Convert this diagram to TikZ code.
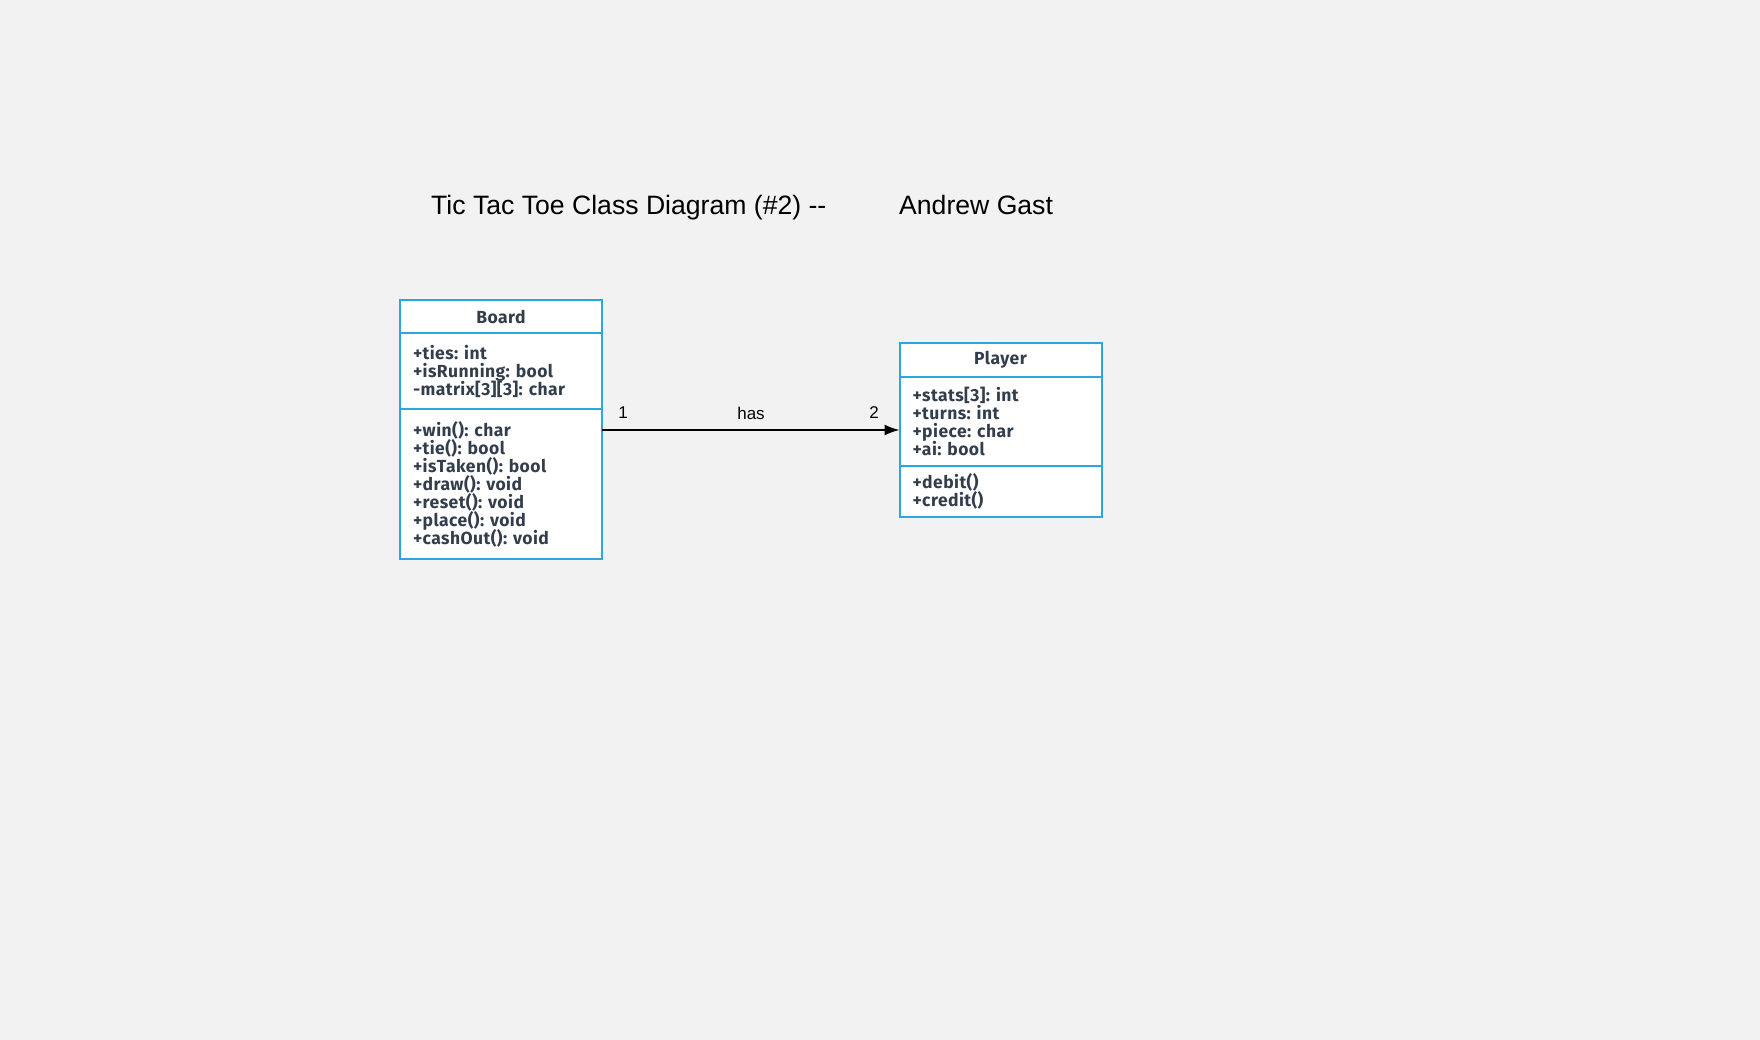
\documentclass[tikz,border=0pt]{standalone}
\usepackage{fontspec}
\setmainfont{Liberation Sans}
\newfontfamily\umlfont[LetterSpace=2.5]{Fira Sans}
\usetikzlibrary{arrows.meta,calc}
\definecolor{bg}{HTML}{F2F2F2}
\definecolor{umlblue}{HTML}{2BA6DE}
\definecolor{umltext}{HTML}{333E4D}
\newcommand\umlsetup{\umlfont\bfseries\frenchspacing\fontsize{17.5}{18}\selectfont\lineskiplimit=-20pt\relax\lineskip=0pt\relax}
\tikzset{
  comp/.style={draw=umlblue, line width=2pt, fill=white, rectangle, minimum width=202pt, inner sep=0pt, outer sep=0pt, text=umltext, font=\umlsetup},
  hdr/.style={comp, align=center},
  body/.style={comp, align=left, text width=176pt},
  lbl/.style={font=\fontsize{17}{20}\selectfont, text=black, inner sep=0pt},
  ttl/.style={font=\fontsize{26.6}{30}\selectfont, text=black, inner sep=0pt, anchor=base west}
}
\begin{document}
\begin{tikzpicture}[x=1pt,y=-1pt]
\fill[bg] (0,0) rectangle (1760,1040);
\useasboundingbox (0,0) rectangle (1760,1040);
\node[ttl] (t1) at (431,215) {Tic Tac Toe Class Diagram (\#2) {-}{-}};
\node[ttl] (t2) at (899,215) {Andrew Gast};
% Board
\node[hdr, minimum height=33.3pt] (boardH) at (501,316.6) {Board};
\node[body, minimum height=75.4pt] (boardA) at (501,371) {+ties: int\\+isRunning: bool\\-matrix[3][3]: char};
\node[body, minimum height=150.6pt] (boardM) at (501,484) {+win(): char\\+tie(): bool\\+isTaken(): bool\\+draw(): void\\+reset(): void\\+place(): void\\+cashOut(): void};
% Player
\node[hdr, minimum height=33.4pt] (playerH) at (1000.5,360) {Player};
\node[body, minimum height=89.3pt] (playerA) at (1000.5,421.35) {+stats[3]: int\\+turns: int\\+piece: char\\+ai: bool};
\node[body, minimum height=51.3pt] (playerM) at (1000.5,491.65) {+debit()\\+credit()};
% association
\coordinate (s) at ($(boardM.north east)+(0,21.3)$);
\coordinate (e) at (playerA.west |- s);
\draw[line width=1.6pt, -{Latex[length=15pt,width=11pt]}] (s) -- (e);
\node[lbl] (m1) at (623,413) {1};
\node[lbl] (has) at (751,413) {has};
\node[lbl] (m2) at (874,413) {2};
\end{tikzpicture}
\end{document}
